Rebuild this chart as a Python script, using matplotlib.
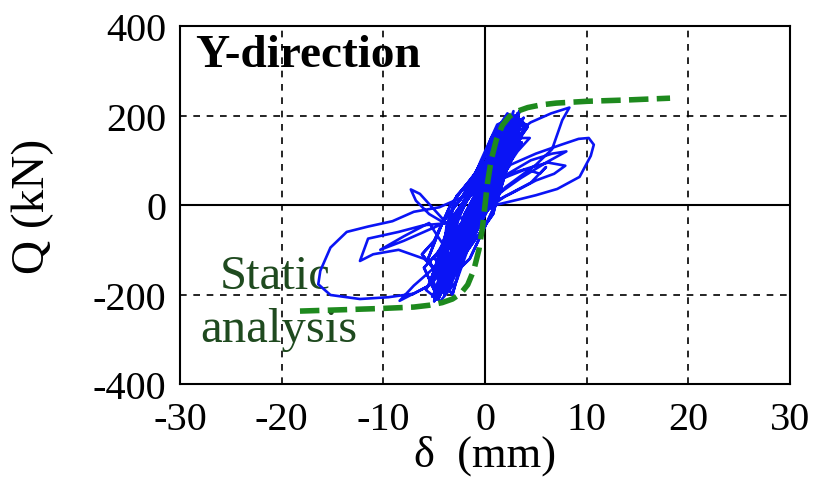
import matplotlib
matplotlib.use("Agg")
import matplotlib.pyplot as plt

plt.rcParams['font.family'] = ['Liberation Serif', 'DejaVu Serif']
plt.rcParams['axes.unicode_minus'] = False

# static analysis (pushover) curve
static_x = [-18.2, -14, -10, -7, -5.5, -4.2, -3.2, -2.4, -1.7, -1.1, -0.6, -0.25, 0,
            0.25, 0.6, 1.1, 1.7, 2.4, 3.2, 4.2, 5.5, 7, 10, 14, 18.2]
static_y = [-237, -234, -231, -228, -224, -218, -210, -198, -178, -145, -100, -50, 0,
            50, 100, 145, 178, 198, 210, 218, 224, 228, 232, 235, 239]

# measured hysteresis, core cycles
core_x = [0, 0.8, 1.5, 0.5, -0.8, -1.5, -0.5, 1.0, 2.0, 1.0, -1.0, -2.5, -1.5, 0.5, 2.2,
          1.2, -1.0, -3.0, -2.0, 0.0, 2.8, 1.5, -1.5, -3.5, -2.2, 0.2, 3.0, 2.0, -0.5,
          -4.0, -3.0, -0.5, 3.2, 1.8, -2.0, -4.5, -3.2, 0.5, 2.5, 0.8, -2.5, -4.0, -4.6,
          -2.0, 0.5, 2.0, 3.4, 1.0, -2.8, -3.8, -4.2, -1.5, 1.2, 3.6, 2.2, 0.0, -3.2,
          -4.8, -3.0, -0.2, 2.8, 4.0, 2.4, -0.5, -3.6, -4.4, -2.6, 0.8, 2.6, 1.4, -1.8,
          -3.9, -5.0, -3.4, -1.0, 1.6, 3.0]
core_y = [0, 60, 110, 40, -40, -90, -30, 70, 140, 80, -30, -120, -60, 40, 160,
          100, -20, -150, -90, 20, 190, 120, -10, -170, -100, 10, 200, 150, 30,
          -190, -140, -20, 205, 140, -20, -205, -120, 40, 180, 90, -10, -80, -200,
          -110, 0, 110, 210, 120, 20, -50, -180, -120, 10, 190, 150, 80, -10,
          -210, -150, -30, 110, 180, 170, 60, -40, -195, -130, -20, 140, 100, 10,
          -90, -215, -170, -60, 60, 170]

# more core cycles, filling the band
core2_x = [-4.0, -2.5, -0.5, 1.5, 2.6, 1.0, -1.5, -3.8, -5.2, -4.6,
           -3.0, -1.2, 0.6, 3.0, 3.8, 2.0, -0.2, -2.8, -4.4, -6.0,
           -5.0, -3.5, -2.0, 0.8, 2.2, 3.4, 2.4, 0.2, -2.2, -4.2,
           -5.6, -4.2, -2.6, -0.8, 1.0, 2.8, 4.2, 3.0, 1.4, -1.0,
           -3.4, -5.0, -6.2, -4.8, -3.2, -2.2, -0.4, 1.8, 3.6, 2.6,
           0.0, -2.6, -4.6, -3.8, -1.6, 0.4, 2.0, 1.6, -0.6, -3.0, -5.4]
core2_y = [-200, -90, 10, 110, 200, 130, 30, -60, -160, -210,
           -130, -30, 60, 170, 195, 160, 80, -20, -100, -140,
           -190, -160, -70, 30, 100, 160, 185, 120, 20, -40,
           -120, -180, -140, -40, 50, 130, 175, 200, 170, 70,
           0, -80, -110, -150, -200, -120, -10, 80, 140, 110,
           40, -50, -130, -100, -20, 70, 190, 140, 60, -30, -170]

core3_x = [-1.0, 1.2, 3.2, 2.2, 0.6, -1.2, -3.6, -5.8, -4.4, -2.8, -1.4, 0.2,
           2.4, 3.8, 2.8, 0.8, -0.8, -3.2, -4.8, -3.6, -1.8, -0.2, 1.4, 3.2,
           4.4, 3.0, 1.0, -1.4, -3.8, -5.0, -3.0, -1.0, 0.8, 2.2, 1.2, -0.4,
           -2.4, -4.0, -5.2, -4.0, -2.4, 0.0, 1.8, 2.8, 1.8, -0.2, -2.0, -4.4]
core3_y = [-60, 90, 185, 205, 150, 40, -80, -190, -215, -170, -80, 10,
           140, 165, 120, 90, 10, -110, -200, -190, -100, -20, 60, 120,
           150, 150, 110, -10, -140, -120, -40, 40, 140, 190, 180, 100,
           -10, -170, -205, -150, -60, 30, 150, 210, 120, -10, -80, -160]

# excursions to the left (large negative loop)
left_x = [3.0, 0.5, -2.0, -4.5, -7.0, -9.1, -11.5, -13.6, -15.2, -16.2, -16.4, -15.2,
          -12.3, -9.5, -7.0, -5.5, -4.2, -3.0, -1.5, -3.5, -6.0, -8.5, -11.5, -12.3,
          -11.0, -8.5, -6.0, -4.5, -3.0, -5.0, -6.4, -7.3, -6.8, -5.5, -4.0, -6.0,
          -8.0, -10.3, -8.0, -5.5, -3.5, -5.5, -8.4, -7.0, -5.0, -3.6, -1.0, 1.5]
left_y = [170, 80, 20, -5, -15, -36, -48, -60, -95, -147, -177, -201,
          -210, -206, -198, -180, -150, -90, -20, -40, -45, -60, -75, -125,
          -110, -100, -120, -150, -60, -10, 25, 35, 10, -20, -40, -60,
          -80, -100, -70, -40, -110, -180, -214, -180, -140, -100, -20, 60]

# excursions to the right (positive peaks and loop)
right_x = [1.5, 3.0, 4.5, 6.5, 8.3, 7.6, 6.6, 5.0, 2.0, 0.0, -2.0, 0.5, 2.5, 5.0,
           7.5, 9.2, 10.2, 10.7, 10.4, 9.3, 7.1, 5.0, 3.4, 1.0, -1.5, 0.5, 2.5,
           4.6, 6.2, 7.9, 6.8, 5.0, 2.5, 0.2, 1.8, 4.0, 5.4, 6.0, 4.5, 2.0, -0.5,
           1.5, 4.5, 6.6, 8.0, 6.0, 3.5, 1.0]
right_y = [120, 160, 185, 205, 218, 190, 125, 90, 40, -10, -60, 30, 90, 115,
           135, 148, 150, 135, 110, 63, 36, 22, 13, 0, -40, 40, 70,
           85, 95, 88, 70, 55, 25, 0, 60, 80, 70, 85, 50, 20, -20,
           60, 100, 115, 120, 95, 60, 20]

x_grid = [-20, -10, 10, 20]
y_grid = [-200, 200]
x_ticks = [-30, -20, -10, 0, 10, 20, 30]
y_ticks = [-400, -200, 0, 200, 400]

fig = plt.figure(figsize=(8.17, 4.85), dpi=100)
ax = fig.add_axes([0.2203, 0.2062, 0.7467, 0.7378])

for gx in x_grid:
    ax.axvline(gx, color='black', lw=1.2, ls=(0, (4, 4)), zorder=1)
for gy in y_grid:
    ax.axhline(gy, color='black', lw=1.2, ls=(0, (4, 4)), zorder=1)
ax.axvline(0, color='black', lw=1.5, zorder=1)
ax.axhline(0, color='black', lw=1.5, zorder=1)

blue_x = core_x + left_x + core2_x + right_x + core3_x + core_x[::-1] + core2_x[::-1]
blue_y = core_y + left_y + core2_y + right_y + core3_y + core_y[::-1] + core2_y[::-1]
ax.plot(blue_x, blue_y, color='#0a14f5', lw=1.9, zorder=3)
ax.plot(static_x, static_y, color='#1e8a1e', lw=4.0, ls=(0, (3.5, 1.5)), zorder=4)

ax.set_xlim(-30, 30)
ax.set_ylim(-400, 400)
ax.set_xticks(x_ticks)
ax.set_yticks(y_ticks)
ax.tick_params(length=0, labelsize=29)
ax.tick_params(axis='x', pad=12)
ax.tick_params(axis='y', pad=10)
for s in ax.spines.values():
    s.set_linewidth(1.5)

ax.set_xlabel('δ  (mm)', fontsize=32, labelpad=-2)
ax.set_ylabel('Q (kN)', fontsize=34, labelpad=28)

ax.text(-28.5, 335, 'Y-direction', fontsize=34, fontweight='bold', va='center', ha='left', zorder=0)
ax.text(-26.1, -159, 'Static', fontsize=35, color='#1f4a1f', va='center', ha='left', zorder=2)
ax.text(-28.0, -278, 'analysis', fontsize=35, color='#1f4a1f', va='center', ha='left', zorder=2)

fig.savefig('out.png', dpi=100)
